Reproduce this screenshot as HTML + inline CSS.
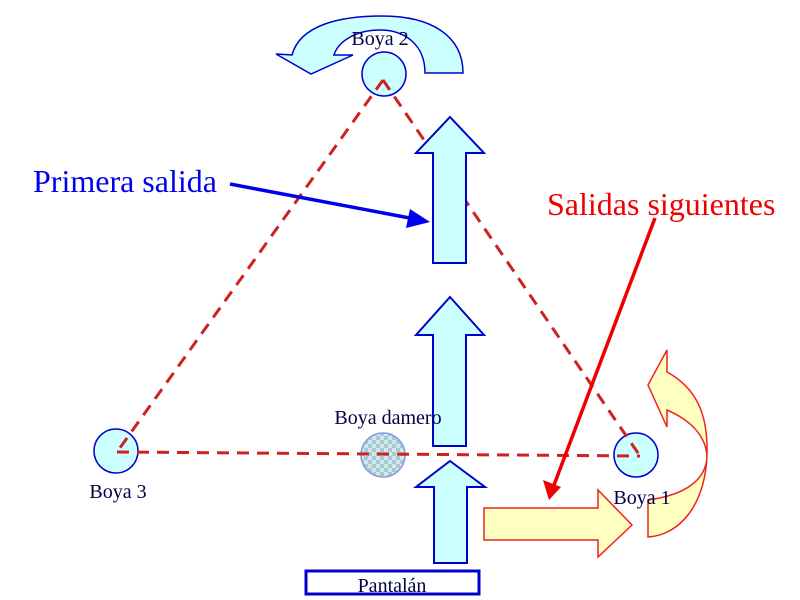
<!DOCTYPE html>
<html><head><style>body{margin:0;background:#fff}svg{display:block}text{font-family:"Liberation Serif",serif}</style></head><body>
<svg width="800" height="600" viewBox="0 0 800 600">
<defs>
<pattern id="chk" width="8" height="8" patternUnits="userSpaceOnUse"><rect width="8" height="8" fill="#a8c8d4"/><rect width="4" height="4" fill="#d0e8e8"/><rect x="4" y="4" width="4" height="4" fill="#d0e8e8"/></pattern>
</defs>
<!-- top curved arrow -->
<path d="M292,55 C300,25 340,16 382,16 C430,16 463,35 463,73 L425,73 C425,45 405,30 380,30 C355,30 338,42 334,55 L353,55 L311,74 L276,54 Z" fill="#ccffff" stroke="#0000cc" stroke-width="1.5"/>
<circle cx="384" cy="74" r="22" fill="#ccffff" stroke="#0000cc" stroke-width="1.5"/>
<circle cx="116" cy="451" r="22" fill="#ccffff" stroke="#0000cc" stroke-width="1.5"/>
<circle cx="636" cy="455" r="22" fill="#ccffff" stroke="#0000cc" stroke-width="1.5"/>
<circle cx="383" cy="455" r="22" fill="url(#chk)" stroke="#8899dd" stroke-width="1.5"/>
<!-- triangle -->
<g stroke="#cc2222" stroke-width="3" stroke-dasharray="12,8" fill="none">
<line x1="383" y1="80" x2="117" y2="452"/><line x1="383" y1="80" x2="640" y2="456"/><line x1="117" y1="452" x2="640" y2="456"/>
</g>
<!-- blue arrows -->
<g fill="#ccffff" stroke="#0000cc" stroke-width="2">
<polygon points="450,117 484,153 466,153 466,263 433,263 433,153 416,153"/>
<polygon points="450,297 484,335 466,335 466,446 433,446 433,335 416,335"/>
<polygon points="450,461 485,487 467,487 467,563 434,563 434,487 416,487"/>
</g>
<rect x="306" y="571" width="173" height="23" fill="#fff" stroke="#0000cc" stroke-width="3"/>
<text x="392" y="592" font-size="20" fill="#000044" text-anchor="middle">Pantalán</text>
<!-- yellow arrows -->
<polygon points="484,508 598,508 598,490 632,525 598,557 598,540 484,540" fill="#ffffc0" stroke="#ee2222" stroke-width="1.5"/>
<path d="M667,350 L667,372 C700,390 708,420 707,455 C705,505 680,535 648,537 L648,500 C685,495 707,480 707,455 C705,435 690,420 667,410 L667,427 L648,385 Z" fill="#ffffc0" stroke="#ee2222" stroke-width="1.5"/>
<!-- labels -->
<g font-size="20" fill="#000044">
<text x="380" y="45" text-anchor="middle">Boya 2</text>
<text x="118" y="498" text-anchor="middle">Boya 3</text>
<text x="642" y="504" text-anchor="middle">Boya 1</text>
<text x="388" y="424" text-anchor="middle">Boya damero</text>
</g>
<text x="33" y="192" font-size="32" fill="#0000ee">Primera salida</text>
<text x="547" y="215" font-size="32" fill="#ee0000">Salidas siguientes</text>
<!-- pointer arrows -->
<line x1="230" y1="184" x2="415" y2="219" stroke="#0000ee" stroke-width="3.5"/>
<polygon points="430,222 410,209 406,228" fill="#0000ee"/>
<line x1="655" y1="218" x2="554" y2="485" stroke="#ee0000" stroke-width="3.5"/>
<polygon points="549,500 543,480 561,487" fill="#ee0000"/>
</svg>
</body></html>
